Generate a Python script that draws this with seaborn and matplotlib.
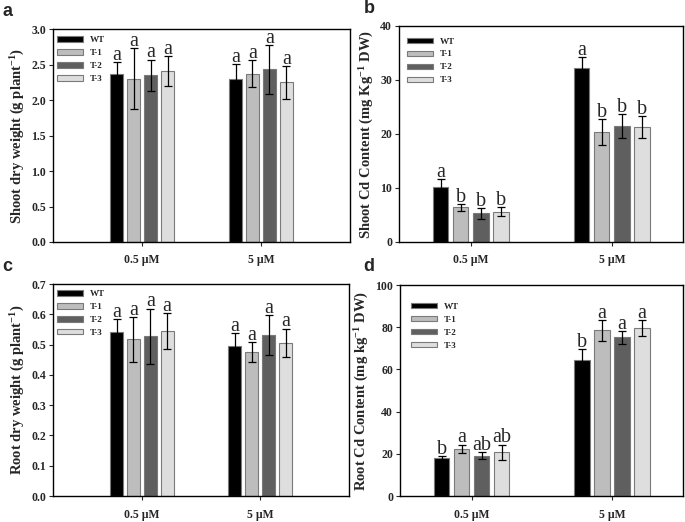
import matplotlib
matplotlib.use("Agg")
import matplotlib.pyplot as plt
import pandas as pd
import seaborn as sns

# categories
concs = ["0.5 µM", "5 µM"]
lines = ["WT", "T-1", "T-2", "T-3"]

# values ordered: 0.5 µM (WT, T-1, T-2, T-3), then 5 µM (WT, T-1, T-2, T-3)
shoot_dw_mean = [2.37, 2.30, 2.35, 2.41, 2.29, 2.37, 2.43, 2.25]
shoot_dw_err = [0.17, 0.43, 0.22, 0.21, 0.22, 0.19, 0.35, 0.23]
shoot_dw_sig = ["a", "a", "a", "a", "a", "a", "a", "a"]

shoot_cd_mean = [10.1, 6.4, 5.3, 5.6, 32.2, 20.3, 21.5, 21.3]
shoot_cd_err = [1.5, 0.6, 1.0, 0.8, 2.0, 2.4, 2.2, 2.1]
shoot_cd_sig = ["a", "b", "b", "b", "a", "b", "b", "b"]

root_dw_mean = [0.542, 0.518, 0.528, 0.546, 0.495, 0.475, 0.533, 0.506]
root_dw_err = [0.043, 0.074, 0.091, 0.059, 0.043, 0.034, 0.066, 0.047]
root_dw_sig = ["a", "a", "a", "a", "a", "a", "a", "a"]

root_cd_mean = [17.9, 22.4, 19.2, 20.8, 64.4, 78.6, 75.2, 79.8]
root_cd_err = [1.2, 2.0, 1.8, 3.6, 5.2, 5.0, 3.2, 3.8]
root_cd_sig = ["b", "a", "ab", "ab", "b", "a", "a", "a"]

palette = {"WT": "#000000", "T-1": "#bdbdbd", "T-2": "#5f5f5f", "T-3": "#dedede"}

sns.set_style("ticks")
plt.rcParams.update({
    "font.family": ["Liberation Serif", "DejaVu Serif"],
    "font.weight": "bold",
    "mathtext.fontset": "custom",
    "mathtext.rm": "Liberation Serif:bold",
    "mathtext.it": "Liberation Serif:bold",
    "mathtext.bf": "Liberation Serif:bold",
    "axes.linewidth": 1.0,
    "axes.edgecolor": "black",
})

fig = plt.figure(figsize=(6.85, 5.22), dpi=100)


def panel(rect, means, errs, sigs, ylim, yticks, fmt, ylabel, xlim, leg_anchor, tag, tag_xy):
    ax = fig.add_axes(rect)
    df = pd.DataFrame({
        "conc": [c for c in concs for _ in lines],
        "line": lines * len(concs),
        "value": means,
        "err": errs,
        "sig": sigs,
    })
    sns.barplot(data=df, x="conc", y="value", hue="line", order=concs,
                hue_order=lines, palette=palette, width=0.57, gap=0.24,
                edgecolor="#7a7a7a", linewidth=0.8, errorbar=None, ax=ax)

    # error bars + significance letters, placed at the bar centres
    bar_conts = list(ax.containers)
    for li, cont in enumerate(bar_conts):
        for ci, bar in enumerate(cont):
            row = df[(df["line"] == lines[li]) & (df["conc"] == concs[ci])].iloc[0]
            xc = bar.get_x() + bar.get_width() / 2
            ax.errorbar(xc, row["value"], yerr=row["err"], fmt="none",
                        ecolor="black", elinewidth=0.9, capsize=3.2,
                        capthick=0.9, zorder=4)
            ax.annotate(row["sig"], (xc, row["value"] + row["err"]),
                        xytext=(0, 1.5), textcoords="offset points",
                        ha="center", va="baseline", fontsize=14.5,
                        fontweight="normal", family="Liberation Serif")

    ax.set_xlim(*xlim)
    ax.set_ylim(*ylim)
    ax.set_yticks(yticks)
    ax.set_yticklabels([fmt.format(v) for v in yticks])
    ax.set_xlabel("")
    ax.set_ylabel(ylabel, fontsize=10.5, fontweight="bold", labelpad=3)
    ax.tick_params(axis="both", labelsize=8.5, length=3, width=0.8,
                   direction="out", pad=2)
    ax.tick_params(axis="x", pad=6)
    for s in ax.spines.values():
        s.set_visible(True)
        s.set_linewidth(1.0)

    sns.move_legend(ax, "upper left", bbox_to_anchor=leg_anchor, frameon=False,
                    title=None, prop={"family": "Liberation Serif",
                                      "weight": "bold", "size": 6.5},
                    handlelength=2.9, handleheight=0.55, labelspacing=0.55,
                    handletextpad=0.7, borderpad=0.2, borderaxespad=0)

    fig.text(tag_xy[0], tag_xy[1], tag, fontsize=13, fontweight="bold",
             family="Liberation Sans", ha="left", va="top")
    return ax


panel([0.0774, 0.5364, 0.4336, 0.408], shoot_dw_mean, shoot_dw_err, shoot_dw_sig,
      (0, 3.0), [0, 0.5, 1.0, 1.5, 2.0, 2.5, 3.0], "{:.1f}",
      r"Shoot dry weight (g plant$^{-1}$)", (-0.75, 1.75), (0.007, 0.975),
      "a", (0.004, 0.995))

panel([0.5825, 0.5364, 0.4146, 0.4138], shoot_cd_mean, shoot_cd_err, shoot_cd_sig,
      (0, 40), [0, 10, 20, 30, 40], "{:.0f}",
      r"Shoot Cd Content (mg Kg$^{-1}$ DW)", (-0.51, 1.505), (0.022, 0.955),
      "b", (0.531, 1.0))

panel([0.0774, 0.0498, 0.4321, 0.4061], root_dw_mean, root_dw_err, root_dw_sig,
      (0, 0.7), [0, 0.1, 0.2, 0.3, 0.4, 0.5, 0.6, 0.7], "{:.1f}",
      r"Root dry weight (g plant$^{-1}$)", (-0.75, 1.75), (0.007, 0.98),
      "c", (0.004, 0.505))

panel([0.584, 0.0498, 0.413, 0.404], root_cd_mean, root_cd_err, root_cd_sig,
      (0, 100), [0, 20, 40, 60, 80, 100], "{:.0f}",
      r"Root Cd Content (mg kg$^{-1}$ DW)", (-0.51, 1.505), (0.033, 0.925),
      "d", (0.531, 0.505))

fig.savefig("out.png", dpi=100, facecolor="white")
